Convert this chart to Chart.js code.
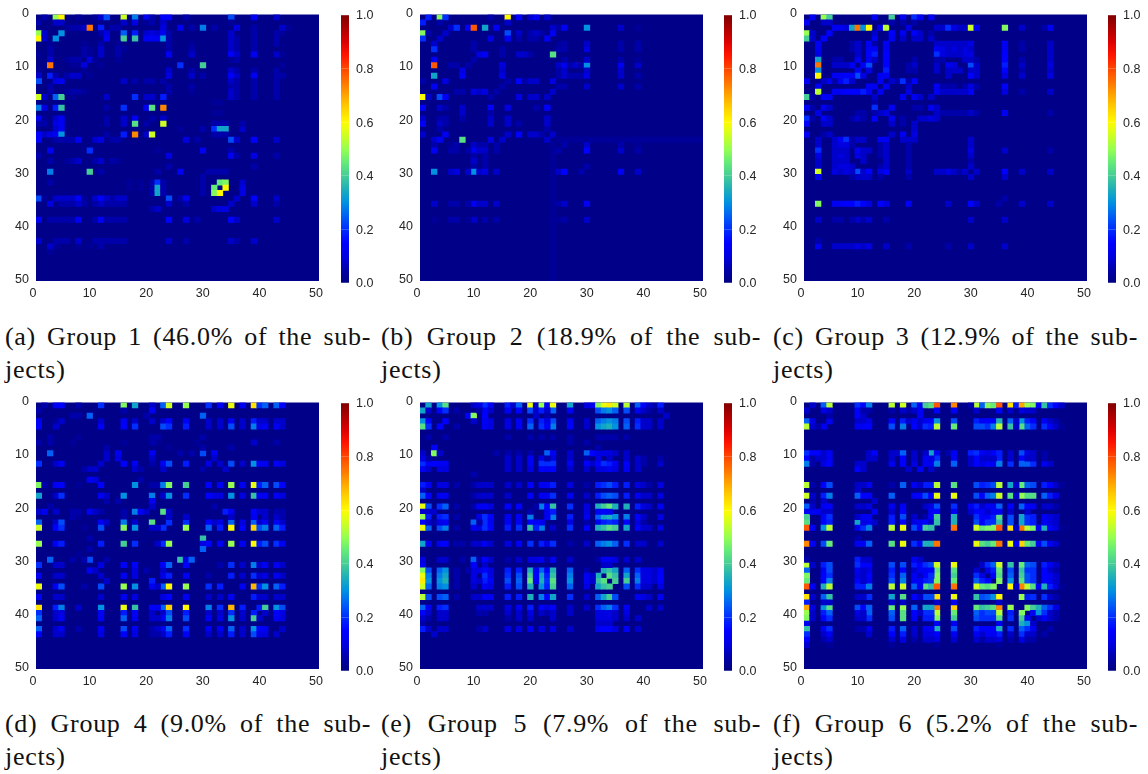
<!DOCTYPE html>
<html>
<head>
<meta charset="utf-8">
<script src="https://cdn.jsdelivr.net/npm/chart.js@4"></script>
<style>
  html, body { margin: 0; background: #fff; }
  #page { position: relative; width: 1148px; height: 774px; overflow: hidden; }
  canvas { position: absolute; filter: blur(0.4px); }
  .cap { position: absolute; font-family: "Liberation Serif", serif; font-size: 26px; letter-spacing: 0.7px; line-height: 33px; color: #111; white-space: nowrap; }
  .cap .first { text-align: justify; text-align-last: justify; white-space: normal; }
</style>
</head>
<body>
<div id="page"></div>
<script>
// each row: row index, then column, value (percent) pairs. the matrices are symmetric
const group1Rows = [
  [0, 1,5, 3,50, 4,60, 7,3, 10,3, 11,8, 12,23, 15,55, 17,28, 19,13, 20,5, 22,15, 23,15, 26,5, 34,23, 38,13, 42,5],
  [1, 3,8, 4,8, 15,8, 17,10, 19,3, 20,5, 22,8, 34,3],
  [2, 5,3, 6,5, 7,5, 8,8, 9,75, 11,18, 13,5, 14,5, 22,10, 25,13, 27,5, 29,28, 31,5, 35,8, 44,3],
  [3, 4,30, 11,5, 12,10, 15,25, 17,18, 19,8, 20,10, 21,8, 22,13, 23,5, 34,8, 38,5, 43,3],
  [4, 12,13, 15,40, 17,38, 19,13, 20,13, 21,13, 22,30, 23,5, 34,8, 35,5, 38,5],
  [5, 8,3, 11,5, 14,3, 23,5, 27,3, 34,8, 35,5, 38,5],
  [6, 8,5, 9,3, 11,8, 14,5, 15,3, 23,5, 27,5, 34,8, 35,5, 38,5],
  [7, 8,5, 9,3, 11,8, 14,5, 23,13, 27,8, 34,13, 35,8, 38,10, 43,3],
  [8, 9,10, 10,3, 14,3, 34,3],
  [9, 11,3, 25,20, 29,40],
  [10, 23,8, 27,5, 34,8, 38,5],
  [11, 23,10, 27,8, 29,5, 34,15, 35,8, 38,10, 43,5],
  [12, 15,8, 17,5, 19,5, 20,5, 22,5, 34,8, 35,5, 38,5],
  [13, 23,5, 27,5, 34,5, 35,5, 38,5],
  [14, 23,5, 27,3, 34,8, 35,5, 38,5],
  [15, 17,20, 19,8, 20,8, 22,18, 34,8, 38,3],
  [16, 31,3, 32,3],
  [17, 19,13, 20,43, 22,73],
  [18, 31,3, 32,3],
  [19, 20,5, 22,8],
  [20, 22,55, 31,5, 32,5, 33,5],
  [21, 25,3, 29,5, 31,13, 32,30, 33,33, 36,5],
  [22, 31,5, 32,5, 33,5],
  [23, 26,10, 28,5, 34,23, 35,5, 38,15, 42,8],
  [25, 29,13, 34,5],
  [26, 34,13, 35,5, 38,10, 42,5],
  [29, 30,5, 31,5, 32,5, 33,5],
  [31, 21,20, 32,45, 33,45, 36,8],
  [32, 21,33, 33,60, 36,10],
  [33, 21,33, 31,48, 36,10],
  [34, 0,23, 3,8, 4,8, 5,8, 7,15, 10,8, 11,15, 12,8, 13,5, 14,8, 15,8, 23,23, 26,13, 35,8, 38,15, 42,8],
  [35, 2,10, 6,5, 7,5, 8,5, 10,5, 11,5, 14,5, 15,5, 23,8],
  [36, 20,5, 21,8, 31,8, 32,8, 33,8],
  [38, 0,13, 2,5, 3,5, 4,5, 5,5, 6,5, 7,13, 10,5, 11,13, 12,5, 13,5, 14,5, 15,5, 23,15, 26,10, 28,5, 34,15, 35,8, 42,8],
  [42, 0,8, 3,5, 4,5, 5,5, 7,8, 10,5, 11,5, 12,5, 13,5, 14,5, 15,5, 23,8, 26,5, 34,8, 35,5, 38,8],
  [43, 2,8, 9,3]
];
const group2Rows = [
  [0, 1,18, 3,48, 4,20, 12,5, 15,60, 17,15, 19,8, 20,13, 22,8],
  [1, 3,5, 15,8],
  [2, 5,8, 6,20, 8,13, 9,78, 11,33, 13,13, 23,8, 24,5, 25,13, 29,30, 35,8],
  [3, 4,8, 15,23, 17,8, 19,5, 20,8, 21,5, 23,13],
  [4, 12,10, 15,13, 17,5, 19,5, 20,5, 22,13],
  [5, 24,3],
  [6, 24,5, 25,5, 29,8, 35,5],
  [7, 10,10, 11,10, 17,8, 18,8, 19,5, 23,43],
  [8, 9,5],
  [9, 5,5, 6,5, 8,5, 14,10, 24,8, 25,13, 26,5, 27,5, 28,5, 29,30, 35,13, 38,8],
  [10, 7,10, 14,5, 24,5, 25,8, 29,8, 35,8],
  [11, 2,33, 7,13, 14,10, 24,5, 25,5, 26,5, 27,5, 28,5, 29,10, 35,8],
  [12, 15,5, 17,15, 19,8, 20,8, 23,10],
  [13, 2,13, 24,5, 29,8, 35,5],
  [14, 6,5, 7,5, 9,8, 10,8, 11,10, 13,5, 23,8],
  [15, 17,10, 19,8, 20,5, 22,8],
  [17, 20,5, 22,15],
  [18, 7,5, 12,5],
  [19, 7,5, 12,8, 15,5, 22,8],
  [20, 12,8, 15,8, 17,5, 22,8],
  [22, 15,8, 17,15, 19,8, 20,8, 21,5, 23,8],
  [23, 2,8, 7,40, 12,8, 14,8, 22,8, 24,3, 25,3, 26,3, 27,3, 28,3, 29,3, 30,3, 31,3, 32,3, 33,3, 34,3, 35,3, 36,3, 37,3, 38,3, 39,3, 40,3, 41,3, 42,3, 43,3, 44,3, 45,3, 46,3, 47,3, 48,3, 49,3],
  [24, 9,8, 11,5, 25,5, 29,5],
  [25, 2,13, 5,5, 6,5, 8,5, 9,13, 11,8, 13,5, 24,5, 29,13, 35,8, 38,3],
  [26, 9,5, 11,5],
  [27, 9,8, 11,5],
  [28, 9,5, 11,5],
  [29, 2,30, 5,8, 6,10, 8,8, 9,30, 11,10, 13,8, 24,8, 25,15, 28,5, 35,13, 38,8],
  [35, 2,8, 5,5, 6,5, 8,5, 9,13, 11,8, 13,8, 24,5, 25,8, 29,10],
  [38, 2,3, 5,5, 6,5, 8,3, 9,8, 11,5, 13,5, 24,3, 25,5, 29,5]
];
const group3Rows = [
  [0, 1,13, 3,50, 4,40, 12,13, 15,40, 17,13, 19,20, 20,13, 22,10],
  [1, 3,8, 4,8],
  [2, 5,13, 6,13, 7,10, 8,33, 9,75, 10,30, 11,60, 13,13, 14,53, 18,10, 23,5, 24,8, 25,20, 26,10, 27,8, 28,8, 29,53, 30,13, 35,48, 38,8, 43,8],
  [3, 4,15, 15,15, 17,10, 19,13, 20,5],
  [4, 12,8, 15,13, 17,5, 19,8, 20,8, 22,8],
  [5, 2,8, 8,5, 9,8, 11,13, 12,5, 14,10, 23,5, 24,5, 25,5, 35,10],
  [6, 2,10, 8,5, 9,8, 11,10, 12,10, 14,10, 23,8, 24,5, 26,5, 28,5, 35,13],
  [7, 2,10, 11,13, 12,15, 14,15, 23,20, 24,5, 26,5, 28,5, 35,13],
  [8, 2,28, 9,13, 19,5, 24,5, 35,8],
  [9, 2,73, 5,8, 6,8, 7,8, 8,13, 10,13, 11,23, 14,15, 19,8, 23,8, 25,8, 26,10, 29,23, 30,8, 35,18, 38,5],
  [10, 2,23, 9,13, 11,8, 14,13, 19,5, 23,8, 25,8, 29,8, 35,13],
  [11, 2,58, 5,13, 6,13, 7,15, 8,13, 9,23, 10,10, 13,13, 14,10, 25,8, 29,13, 35,8],
  [12, 0,13, 3,8, 4,13, 6,13, 7,18, 8,8, 13,13, 16,5, 17,18, 19,15],
  [13, 2,8, 11,10, 12,10, 14,13, 23,13, 24,5, 25,5, 26,5, 28,5, 35,15],
  [14, 2,53, 5,13, 6,13, 7,15, 8,15, 9,10, 10,18, 11,13, 13,13, 18,10, 29,13, 35,10],
  [15, 0,40, 1,5, 3,13, 4,13, 12,8, 17,10, 19,10, 20,8, 22,8],
  [17, 0,13, 1,5, 3,13, 4,8, 12,20, 15,13, 20,5, 22,8, 23,8],
  [18, 2,10, 9,5, 10,5, 12,5, 13,8, 23,8, 24,5, 25,5, 29,5, 35,10],
  [19, 0,18, 1,5, 3,15, 4,8, 12,13, 15,13, 17,5, 21,8, 22,10],
  [20, 0,13, 3,8, 4,8, 15,8, 19,8],
  [22, 0,13, 3,5, 4,8, 15,8, 17,13, 19,10],
  [23, 2,8, 5,8, 6,13, 7,18, 8,5, 9,8, 10,8, 14,13, 18,8, 19,8, 29,5],
  [24, 2,8, 5,8, 6,10, 7,10, 14,8, 18,5],
  [25, 2,15, 5,8, 6,8, 7,8, 9,13, 10,8, 11,8, 14,8, 18,5, 29,8, 35,8],
  [26, 2,8, 5,8, 6,10, 7,8, 9,8, 10,8, 14,8, 18,5, 29,8],
  [27, 2,5, 5,8, 6,8, 7,8, 10,8, 14,8, 18,5, 29,5],
  [28, 5,8, 6,10, 7,10, 8,8, 14,8, 18,5, 29,5],
  [29, 2,55, 5,10, 6,8, 7,10, 8,8, 9,20, 10,8, 11,15, 13,10, 14,15, 18,8, 23,8, 24,8, 25,10, 26,8, 27,5, 28,8, 30,8, 35,15, 38,8, 43,8],
  [30, 2,13, 8,5, 9,8, 10,8, 11,8, 13,5, 18,5, 29,8, 35,8],
  [35, 2,48, 5,13, 6,13, 7,15, 8,15, 9,18, 10,15, 11,10, 13,15, 14,8, 18,13, 25,8, 29,15, 30,8, 34,5, 38,5, 43,5],
  [38, 2,8, 5,5, 6,5, 8,5, 9,8, 10,5, 11,8, 14,5, 29,5, 35,8],
  [42, 2,5],
  [43, 2,13, 5,8, 6,8, 7,8, 8,8, 9,10, 10,8, 11,10, 14,8, 18,5, 25,5, 29,8, 35,8]
];
const group4Rows = [
  [0, 1,5, 3,13, 4,15, 7,5, 11,18, 15,45, 17,30, 20,8, 22,20, 23,55, 26,50, 30,20, 32,13, 34,58, 36,13, 38,63, 39,20, 40,25, 42,20, 43,15],
  [1, 20,13],
  [2, 6,5, 9,25, 19,5, 29,25],
  [3, 0,13, 3,3, 4,8, 11,8, 15,13, 17,5, 22,8, 23,13, 26,10, 30,8, 32,5, 34,13, 36,8, 38,15, 39,8, 40,8, 42,8, 43,8],
  [4, 0,15, 3,5, 11,8, 15,15, 17,15, 22,20, 23,20, 26,13, 30,8, 32,8, 34,13, 36,5, 38,28, 39,10, 40,10, 42,8, 43,8],
  [6, 2,5, 7,3, 21,5],
  [7, 2,5, 15,3, 21,3, 28,3],
  [9, 2,18, 12,8, 14,13, 20,13, 25,5, 27,5, 29,18, 31,13],
  [11, 0,20, 3,8, 4,13, 11,8, 15,13, 17,13, 22,13, 23,23, 26,15, 30,10, 32,8, 34,20, 36,5, 38,30, 39,13, 40,13, 42,10, 43,10],
  [12, 8,5, 10,8, 17,5, 18,5, 22,8, 33,8],
  [14, 10,10, 18,5],
  [15, 0,48, 1,5, 3,13, 4,13, 11,15, 17,30, 21,5, 22,25, 23,48, 26,40, 30,15, 32,13, 34,48, 36,8, 38,55, 39,18, 40,25, 42,20, 43,15],
  [17, 0,33, 3,8, 4,20, 11,13, 12,8, 15,30, 20,28, 22,8, 23,25, 26,20, 30,13, 31,10, 32,10, 34,30, 36,8, 38,35, 39,13, 40,13, 42,13, 43,10],
  [20, 0,8, 1,8, 3,8, 6,5, 7,5, 10,8, 11,5, 15,5, 17,28, 18,13, 19,8, 22,38, 23,8, 33,18, 34,10, 38,13, 39,8, 40,8, 42,5, 43,5],
  [22, 0,25, 4,23, 11,8, 12,8, 15,28, 17,8, 20,43, 23,20, 26,20, 30,8, 31,8, 32,8, 34,25, 38,25, 39,8, 40,8, 42,8, 43,8],
  [23, 0,55, 3,15, 4,20, 8,3, 11,20, 15,45, 17,30, 20,8, 21,8, 22,20, 26,50, 30,20, 32,18, 34,58, 36,15, 38,63, 39,23, 40,28, 42,25, 43,18],
  [25, 29,35],
  [26, 0,48, 3,13, 4,18, 11,18, 15,38, 17,20, 21,8, 22,20, 23,50, 29,10, 30,13, 32,13, 34,50, 36,13, 38,55, 39,18, 40,23, 42,20, 43,13],
  [29, 2,23, 6,5, 8,5, 9,23, 12,5, 25,38, 27,25],
  [30, 0,15, 3,8, 4,8, 11,10, 15,13, 17,15, 22,15, 23,25, 26,15, 34,20, 36,5, 38,25, 39,8, 40,10, 42,8, 43,8],
  [31, 10,8, 19,5, 22,8],
  [32, 0,13, 3,8, 4,8, 11,8, 15,13, 17,10, 22,10, 23,15, 26,10, 30,5, 34,13, 36,5, 38,18, 39,8, 40,8, 42,8, 43,8],
  [33, 20,15],
  [34, 0,58, 3,13, 4,23, 8,5, 11,23, 15,50, 17,30, 20,13, 21,8, 22,25, 23,60, 26,50, 30,20, 32,18, 36,13, 38,68, 39,20, 40,28, 42,25, 43,18],
  [36, 0,13, 3,8, 4,8, 11,8, 15,13, 17,10, 22,10, 23,15, 26,10, 30,8, 32,8, 34,13, 38,13, 39,8, 40,8, 42,8, 43,8],
  [38, 0,60, 3,18, 4,28, 7,8, 11,30, 15,58, 17,38, 20,15, 21,13, 22,25, 23,65, 26,60, 30,28, 32,20, 34,68, 36,18, 39,18, 40,40, 42,30, 43,23],
  [39, 38,10],
  [40, 0,20, 3,8, 4,13, 11,13, 15,18, 17,13, 20,8, 21,8, 22,13, 23,25, 26,20, 30,13, 32,10, 34,30, 36,8, 38,35, 39,8, 42,13, 43,10],
  [42, 0,25, 3,8, 4,13, 7,5, 11,13, 15,23, 17,13, 21,8, 22,13, 23,25, 26,20, 30,13, 32,13, 34,25, 36,8, 38,30, 39,15, 40,13, 43,8],
  [43, 0,15, 3,8, 4,8, 11,8, 15,15, 17,10, 21,5, 22,8, 23,15, 26,13, 30,8, 32,8, 34,15, 36,5, 38,15, 39,10, 40,8]
];
const group5Rows = [
  [0, 1,30, 3,23, 4,38, 11,20, 12,10, 15,18, 16,8, 17,25, 19,58, 20,8, 21,50, 22,8, 23,58, 26,23, 30,13, 31,48, 32,50, 33,58, 34,55, 36,53, 38,25, 39,15, 40,8, 41,5, 42,18],
  [1, 0,33, 1,8, 3,15, 4,20, 11,15, 15,13, 17,15, 19,23, 20,8, 21,18, 23,25, 26,13, 31,20, 32,25, 33,25, 34,25, 36,15, 38,13, 39,8, 42,8],
  [2, 8,15, 9,48, 11,13],
  [3, 0,30, 1,15, 4,15, 11,13, 12,10, 15,10, 17,13, 19,20, 21,18, 23,23, 26,13, 29,8, 31,23, 32,28, 33,28, 34,28, 36,18, 38,18, 39,8, 40,8, 42,8],
  [4, 0,43, 1,15, 3,15, 11,13, 12,10, 15,10, 17,13, 19,25, 21,20, 23,28, 26,13, 31,23, 32,30, 33,33, 34,30, 36,20, 38,20, 39,8, 40,8, 42,8],
  [6, 1,5, 4,5, 15,5, 19,5, 21,5, 23,5, 26,5, 31,5, 32,5, 33,5, 34,5, 36,5],
  [8, 2,10],
  [9, 0,8, 2,48, 3,8, 13,5, 15,5, 17,5, 19,5, 22,25, 23,13, 26,8, 29,18, 30,13, 31,8, 32,8, 33,8, 34,8, 36,8],
  [10, 0,10, 1,5, 15,8, 17,8, 19,13, 21,10, 23,10, 26,8, 29,5],
  [11, 0,20, 1,15, 2,15, 3,10, 4,13, 15,8, 17,8, 19,13, 21,20, 22,20, 23,20, 26,10, 29,13, 30,8, 31,13, 32,15, 33,15, 34,13, 36,8, 38,5, 39,5, 42,5],
  [12, 0,13, 1,8, 3,8, 4,8, 15,8, 17,8, 19,10, 21,8, 22,8, 23,10, 26,8, 29,8, 31,10, 32,10, 33,13, 34,10, 36,10, 38,5],
  [15, 0,15, 1,10, 3,10, 4,10, 11,5, 12,5, 15,8, 17,8, 19,13, 21,13, 22,13, 23,18, 26,10, 29,5, 31,15, 32,15, 33,18, 34,15, 36,13, 38,8, 39,5, 40,5, 42,8],
  [17, 0,20, 1,13, 3,10, 4,13, 11,8, 15,8, 19,15, 21,13, 22,13, 23,20, 26,13, 29,8, 31,18, 32,20, 33,20, 34,18, 36,15, 38,13, 39,8, 40,8, 42,8],
  [19, 0,53, 1,20, 3,20, 4,25, 11,13, 12,10, 15,15, 17,15, 21,28, 22,13, 23,38, 26,18, 29,10, 31,30, 32,38, 33,43, 34,35, 36,25, 38,18, 39,10, 40,8, 42,10],
  [20, 1,8, 2,8, 19,5],
  [21, 0,48, 1,18, 3,15, 4,20, 11,8, 12,15, 15,13, 17,13, 19,25, 23,25, 26,13, 29,10, 31,23, 32,28, 33,35, 34,30, 36,20, 38,15, 39,8, 42,8],
  [22, 0,15, 1,8, 2,5, 3,10, 4,13, 9,25, 10,5, 12,13, 15,10, 17,10, 19,15, 20,13, 21,13, 26,10, 31,13, 32,18, 33,20, 34,18, 36,15, 38,10, 39,5],
  [23, 0,53, 1,18, 3,20, 4,28, 9,10, 10,8, 12,15, 15,15, 17,18, 19,35, 20,18, 21,28, 23,8, 26,18, 29,8, 31,30, 32,35, 33,43, 34,40, 36,28, 38,15, 39,8, 40,8, 42,10],
  [26, 0,33, 1,13, 3,13, 4,15, 7,5, 9,8, 10,8, 11,13, 12,8, 15,10, 17,13, 19,20, 21,18, 23,20, 26,5, 31,15, 32,20, 33,20, 34,20, 36,13, 38,8, 39,8, 42,8],
  [29, 0,10, 3,8, 4,8, 7,5, 9,25, 11,15, 15,5, 17,5, 19,10, 20,10, 21,13, 22,5, 23,15, 26,8, 31,5, 32,13, 33,13, 34,10, 36,8, 38,8],
  [30, 9,15, 11,8],
  [31, 0,48, 1,23, 3,25, 4,30, 8,5, 9,10, 10,10, 11,15, 12,10, 15,18, 17,18, 19,35, 20,13, 21,25, 22,13, 23,35, 26,25, 32,35, 33,38, 34,33, 36,25, 38,20, 39,10, 40,10, 41,8, 42,13],
  [32, 0,58, 1,28, 3,28, 4,33, 9,10, 11,20, 12,10, 15,20, 17,23, 19,40, 20,15, 21,33, 22,10, 23,38, 26,28, 29,8, 30,8, 33,43, 34,38, 36,33, 38,25, 39,10, 40,10, 41,8, 42,15],
  [33, 0,62, 1,30, 3,30, 4,35, 9,10, 10,8, 11,18, 12,10, 15,23, 17,25, 19,45, 20,13, 21,35, 23,43, 26,30, 30,8, 34,40, 36,40, 38,28, 39,10, 40,10, 41,8, 42,15],
  [34, 0,55, 1,25, 3,25, 4,30, 9,8, 11,13, 12,8, 15,18, 17,23, 19,35, 21,30, 23,38, 26,25, 36,23, 38,20, 39,8, 40,8, 42,10],
  [36, 0,45, 1,23, 3,23, 4,25, 9,5, 10,8, 11,15, 12,13, 15,18, 17,18, 19,35, 21,28, 23,33, 26,20, 38,13, 39,8, 40,8, 42,13],
  [38, 0,18, 1,10, 3,15, 4,15, 10,8, 11,8, 12,8, 15,10, 17,13, 19,15, 21,13, 23,15, 26,8, 40,8, 42,5],
  [39, 1,5, 3,5, 4,5, 10,5, 15,8, 17,8, 19,8, 21,8, 23,8, 26,8, 31,8, 32,10, 33,10, 34,8, 36,10],
  [40, 0,8, 1,5, 3,5],
  [42, 0,13, 1,8, 3,8, 4,8, 10,5, 11,8, 15,10, 17,10, 19,13, 21,10, 23,10, 26,8, 31,10, 32,13, 33,13, 34,10, 36,10, 38,8],
  [43, 2,8]
];
const group6Rows = [
  [0, 1,8, 3,18, 4,50, 9,18, 10,15, 11,28, 15,53, 17,55, 19,25, 20,13, 21,40, 22,43, 23,75, 26,73, 30,53, 31,23, 32,48, 33,45, 34,78, 36,63, 37,8, 38,70, 39,48, 40,43, 41,13, 42,38, 43,18, 44,8],
  [1, 4,5, 9,13, 18,5, 20,13, 23,8, 26,13, 34,10, 36,8],
  [2, 9,13, 10,8, 20,13],
  [3, 0,25, 1,10, 4,10, 9,8, 10,8, 11,10, 15,15, 17,18, 18,8, 19,13, 20,8, 21,13, 22,15, 23,30, 26,23, 30,18, 31,13, 32,15, 33,15, 34,35, 36,25, 38,30, 39,18, 40,15, 42,13, 43,8, 44,5],
  [4, 0,53, 1,8, 2,5, 3,13, 9,13, 10,13, 11,15, 15,20, 17,25, 19,15, 20,8, 21,15, 22,18, 23,50, 26,45, 30,23, 31,15, 32,20, 33,20, 34,53, 36,33, 38,40, 39,20, 40,20, 42,15, 43,8, 44,5],
  [9, 0,20, 1,15, 2,15, 4,13, 11,8, 12,13, 15,8, 16,8, 17,25, 19,8, 22,30, 23,13, 25,5, 26,10, 29,18, 30,18, 31,8, 33,15, 34,10, 36,5, 38,18, 39,8, 42,5],
  [10, 0,13, 1,5, 2,8, 4,10, 11,5, 12,5, 17,10, 23,13, 26,10, 30,5, 34,8, 38,10],
  [11, 0,25, 1,5, 3,8, 4,13, 9,8, 10,8, 15,13, 17,15, 19,8, 21,8, 22,13, 23,18, 26,20, 30,13, 31,8, 32,10, 33,13, 34,25, 36,13, 38,18, 39,13, 40,13, 42,8],
  [12, 9,15, 10,8, 18,8, 20,13],
  [15, 0,50, 1,5, 3,13, 4,23, 9,8, 10,8, 11,13, 15,5, 17,23, 19,13, 21,15, 22,18, 23,50, 26,43, 30,23, 31,15, 32,20, 33,23, 34,50, 36,25, 38,40, 39,20, 40,20, 42,15, 43,15, 44,8],
  [17, 0,55, 1,8, 3,15, 4,28, 9,20, 10,15, 11,15, 15,25, 19,13, 20,15, 21,15, 22,15, 23,55, 26,53, 30,23, 31,13, 32,20, 33,23, 34,55, 36,38, 38,50, 39,23, 40,23, 42,20, 43,8],
  [19, 0,20, 1,8, 3,8, 4,13, 9,8, 10,8, 11,10, 15,13, 17,8, 21,8, 22,10, 23,15, 26,18, 30,18, 31,8, 32,10, 33,13, 34,23, 36,13, 38,18, 39,13, 40,10, 42,8],
  [20, 0,13, 1,10, 2,10, 4,8, 12,8, 15,8, 17,10, 22,8, 23,13, 26,8, 30,8, 31,10],
  [21, 0,40, 3,13, 4,20, 9,8, 10,13, 11,13, 15,18, 17,23, 21,5, 22,5, 23,40, 26,35, 30,20, 31,13, 32,15, 33,18, 34,38, 36,20, 38,30, 39,18, 40,18, 42,13, 43,5],
  [22, 0,15, 3,8, 4,10, 9,33, 10,10, 11,10, 12,8, 15,10, 17,15, 19,8, 20,13, 21,15, 22,8, 23,15, 26,18, 30,13, 33,10, 34,18],
  [23, 0,78, 1,13, 3,23, 4,53, 9,13, 10,20, 11,28, 15,53, 17,58, 19,23, 20,15, 21,40, 22,38, 26,75, 30,55, 31,25, 32,48, 33,48, 34,78, 36,63, 38,73, 39,50, 40,43, 41,13, 42,35, 43,13, 44,8],
  [26, 0,73, 1,13, 3,23, 4,45, 9,13, 10,13, 11,25, 15,43, 17,58, 19,20, 20,13, 21,35, 22,35, 23,75, 30,58, 31,25, 32,40, 33,45, 34,75, 36,58, 38,63, 39,45, 40,38, 41,13, 42,23, 43,13, 44,5],
  [29, 0,5, 9,13, 10,8, 11,8, 19,13, 20,8],
  [30, 0,53, 1,8, 3,15, 4,23, 9,20, 10,15, 11,15, 15,23, 17,23, 19,13, 20,15, 21,18, 22,23, 23,53, 26,48, 31,5, 32,18, 33,20, 34,55, 36,35, 38,43, 39,23, 40,23, 42,18, 43,13],
  [31, 0,25, 3,13, 4,23, 9,13, 10,8, 11,10, 15,18, 17,15, 19,8, 20,13, 21,13, 22,15, 23,45, 26,43, 30,8, 32,10, 33,18, 34,45, 36,23, 38,38, 39,20, 40,20, 42,15, 43,8],
  [32, 0,45, 3,10, 4,20, 9,10, 10,8, 11,15, 15,15, 17,25, 19,13, 20,8, 21,15, 22,20, 23,45, 26,40, 30,20, 31,10, 33,15, 34,43, 36,23, 38,38, 39,20, 40,20, 42,13],
  [33, 0,45, 3,10, 4,28, 9,15, 10,8, 11,13, 15,18, 17,28, 19,13, 20,13, 21,18, 22,20, 23,48, 26,40, 30,25, 31,13, 32,15, 34,45, 36,25, 38,43, 39,23, 40,20, 42,15],
  [34, 0,73, 1,13, 3,23, 4,53, 9,18, 10,18, 11,28, 15,53, 17,55, 19,25, 20,13, 21,43, 22,38, 23,78, 26,73, 30,55, 31,25, 32,43, 33,48, 36,60, 38,73, 39,53, 40,43, 41,13, 42,35, 43,13, 44,5],
  [36, 0,60, 1,8, 3,13, 4,38, 9,8, 10,8, 11,20, 15,33, 17,43, 19,15, 20,8, 21,23, 22,23, 23,55, 26,53, 30,38, 31,18, 32,25, 33,30, 34,55, 38,50, 39,18, 40,18, 42,20, 43,5],
  [37, 0,18, 3,8, 4,8, 15,8, 17,8, 23,8, 26,13, 34,8],
  [38, 0,70, 1,10, 3,28, 4,43, 9,23, 10,15, 11,25, 15,45, 17,50, 19,25, 21,33, 22,33, 23,75, 26,65, 30,45, 31,28, 32,40, 33,40, 34,73, 36,48, 39,5, 40,33, 41,35, 42,23, 43,13],
  [39, 0,50, 1,8, 3,13, 4,25, 9,10, 10,8, 11,25, 15,25, 17,43, 19,15, 20,8, 21,20, 22,20, 23,53, 26,45, 30,25, 31,15, 32,23, 33,23, 34,45, 36,18, 38,48, 40,10, 41,30, 42,20, 43,8],
  [40, 0,48, 1,8, 3,13, 4,20, 9,8, 10,8, 11,20, 15,23, 17,43, 19,13, 21,18, 22,18, 23,48, 26,40, 30,23, 31,13, 32,20, 33,20, 34,40, 36,20, 38,40, 39,13, 41,8, 42,13, 43,8],
  [42, 0,38, 3,10, 4,20, 9,5, 10,5, 11,13, 15,18, 17,25, 19,8, 21,13, 22,13, 23,35, 26,23, 30,18, 31,10, 32,15, 33,15, 34,35, 36,15, 38,25, 39,13, 40,13, 43,5],
  [43, 0,20, 3,8, 4,13, 11,8, 15,10, 17,18, 19,8, 21,10, 22,10, 23,15, 26,13, 30,13, 31,8, 32,13, 33,13, 34,18, 36,8, 38,20, 39,8, 40,8],
  [44, 0,15, 3,5, 4,8, 15,8, 17,10, 19,5, 21,8, 22,8, 23,10, 26,8, 30,8, 31,5, 32,8, 33,8, 34,10, 36,5, 38,10, 39,5, 40,5],
  [45, 0,8, 4,3, 15,3, 23,3, 34,3]
];
const groupRows = [group1Rows, group2Rows, group3Rows, group4Rows, group5Rows, group6Rows];

const axisTicks = [0, 10, 20, 30, 40, 50];
const captions = [
  ['(a) Group 1 (46.0% of the sub-', 'jects)'],
  ['(b) Group 2 (18.9% of the sub-', 'jects)'],
  ['(c) Group 3 (12.9% of the sub-', 'jects)'],
  ['(d) Group 4 (9.0% of the sub-', 'jects)'],
  ['(e) Group 5 (7.9% of the sub-', 'jects)'],
  ['(f) Group 6 (5.2% of the sub-', 'jects)']
];

// layout of the 2x3 grid
const plotLeft = [36, 420, 804];
const plotTop = [14, 402];
const plotW = 283, plotH = 267;
const barLeft = [341, 724, 1108];
const barTop = [15, 403];
const barW = 8, barH = 268;
const capLeft = [5, 381, 773];
const capWidth = [366, 380, 365];
const capTop = [320, 707];

const tickFont = { family: 'Liberation Sans', size: 12.5 };
const tickColor = '#262626';

// colorbar colours, one every 0.05 up to 0.9
const cmapColors = [
  [0,0,127], [0,0,170], [0,0,225], [0,0,255], [0,45,255], [0,95,245], [0,145,225],
  [30,175,185], [70,205,150], [100,235,120], [150,255,80], [205,255,35], [255,250,0],
  [255,210,0], [255,165,0], [255,115,0], [255,70,0], [255,20,0], [220,0,0]
];
function colorOf(v) {
  let rgb;
  if (v >= 0.9) {
    let t = (v - 0.9) / 0.1;
    rgb = [220 - 93 * t, 0, 0];
  } else {
    let p = v / 0.05, i = Math.min(Math.floor(p), cmapColors.length - 2), t = p - i;
    rgb = cmapColors[i].map(function(c, k) { return c + (cmapColors[i + 1][k] - c) * t; });
  }
  return 'rgb(' + Math.round(rgb[0]) + ',' + Math.round(rgb[1]) + ',' + Math.round(rgb[2]) + ')';
}

function readCells(rows) {
  let cells = {};
  rows.forEach(function(row) {
    for (let i = 1; i < row.length; i += 2) {
      let a = row[0], b = row[i], v = row[i + 1];
      cells[a + ',' + b] = Math.max(cells[a + ',' + b] || 0, v);
      cells[b + ',' + a] = Math.max(cells[b + ',' + a] || 0, v);
    }
  });
  return cells;
}

const page = document.getElementById('page');

function addCanvas(left, top, w, h) {
  let c = document.createElement('canvas');
  c.style.left = left + 'px';
  c.style.top = top + 'px';
  c.style.width = w + 'px';
  c.style.height = h + 'px';
  c.width = w;
  c.height = h;
  page.appendChild(c);
  return c;
}

// zero level behind the sparse cells
const zeroFill = {
  id: 'zeroFill',
  beforeDatasetsDraw: function(chart) {
    let a = chart.chartArea;
    chart.ctx.fillStyle = colorOf(0.012);
    chart.ctx.fillRect(a.left, a.top, a.right - a.left, a.bottom - a.top);
  }
};

function drawHeatmap(rows, left, top) {
  let cells = readCells(rows);
  let data = [], colors = [];
  Object.keys(cells).forEach(function(key) {
    let rc = key.split(',').map(Number);
    data.push({ x: rc[1] + 0.5, y: [rc[0], rc[0] + 1] });
    colors.push(colorOf(cells[key] / 100));
  });
  let canvas = addCanvas(left - 36, top - 14, plotW + 50, plotH + 44);
  new Chart(canvas, {
    type: 'bar',
    data: { datasets: [{ data: data, backgroundColor: colors, barPercentage: 1, categoryPercentage: 1, borderWidth: 0 }] },
    plugins: [zeroFill],
    options: {
      responsive: false,
      animation: false,
      devicePixelRatio: 1,
      layout: { padding: { top: 14, right: 14 } },
      plugins: { legend: { display: false }, tooltip: { enabled: false } },
      scales: {
        x: {
          type: 'linear', min: 0, max: 50, offset: false,
          afterFit: function(s) { s.height = 30; },
          grid: { display: false, drawTicks: false, offset: false },
          border: { display: false },
          afterBuildTicks: function(s) { s.ticks = axisTicks.map(function(v) { return { value: v }; }); },
          ticks: { font: tickFont, color: tickColor, padding: 5, maxRotation: 0, autoSkip: false, labelOffset: -3 }
        },
        y: {
          type: 'linear', min: 0, max: 50, reverse: true,
          afterFit: function(s) { s.width = 36; },
          grid: { display: false, drawTicks: false },
          border: { display: false },
          afterBuildTicks: function(s) { s.ticks = axisTicks.map(function(v) { return { value: v }; }); },
          ticks: { font: tickFont, color: tickColor, padding: 7, autoSkip: false, labelOffset: -1 }
        }
      }
    }
  });
}

function drawColorbar(left, top) {
  let canvas = addCanvas(left, top - 16, barW + 32, barH + 32);
  new Chart(canvas, {
    type: 'bar',
    data: {
      labels: [''],
      datasets: [{
        data: [[0, 1]],
        barPercentage: 1,
        categoryPercentage: 1,
        borderWidth: 0,
        backgroundColor: function(ctx) {
          let a = ctx.chart.chartArea;
          if (!a) return colorOf(0);
          let g = ctx.chart.ctx.createLinearGradient(0, a.bottom, 0, a.top);
          for (let i = 0; i <= 40; i++) g.addColorStop(i / 40, colorOf(i / 40));
          return g;
        }
      }]
    },
    options: {
      responsive: false,
      animation: false,
      devicePixelRatio: 1,
      layout: { padding: { top: 16, bottom: 16 } },
      plugins: { legend: { display: false }, tooltip: { enabled: false } },
      scales: {
        x: { display: false },
        y: {
          position: 'right', min: 0, max: 1,
          afterFit: function(s) { s.width = 32; },
          grid: { drawTicks: false, color: 'rgba(255,255,255,0.2)', z: 1 },
          border: { display: false },
          ticks: {
            stepSize: 0.2, font: tickFont, color: tickColor, padding: 7, labelOffset: 1,
            callback: function(v) { return v.toFixed(1); }
          }
        }
      }
    }
  });
}

function addCaption(lines, left, top, width) {
  let d = document.createElement('div');
  d.className = 'cap';
  d.style.left = left + 'px';
  d.style.top = top + 'px';
  d.style.width = width + 'px';
  let a = document.createElement('div');
  a.className = 'first';
  a.textContent = lines[0];
  let b = document.createElement('div');
  b.textContent = lines[1];
  d.appendChild(a);
  d.appendChild(b);
  page.appendChild(d);
}

groupRows.forEach(function(rows, i) {
  let col = i % 3, row = Math.floor(i / 3);
  drawHeatmap(rows, plotLeft[col], plotTop[row]);
  drawColorbar(barLeft[col], barTop[row]);
  addCaption(captions[i], capLeft[col], capTop[row], capWidth[col]);
});
</script>
</body>
</html>
